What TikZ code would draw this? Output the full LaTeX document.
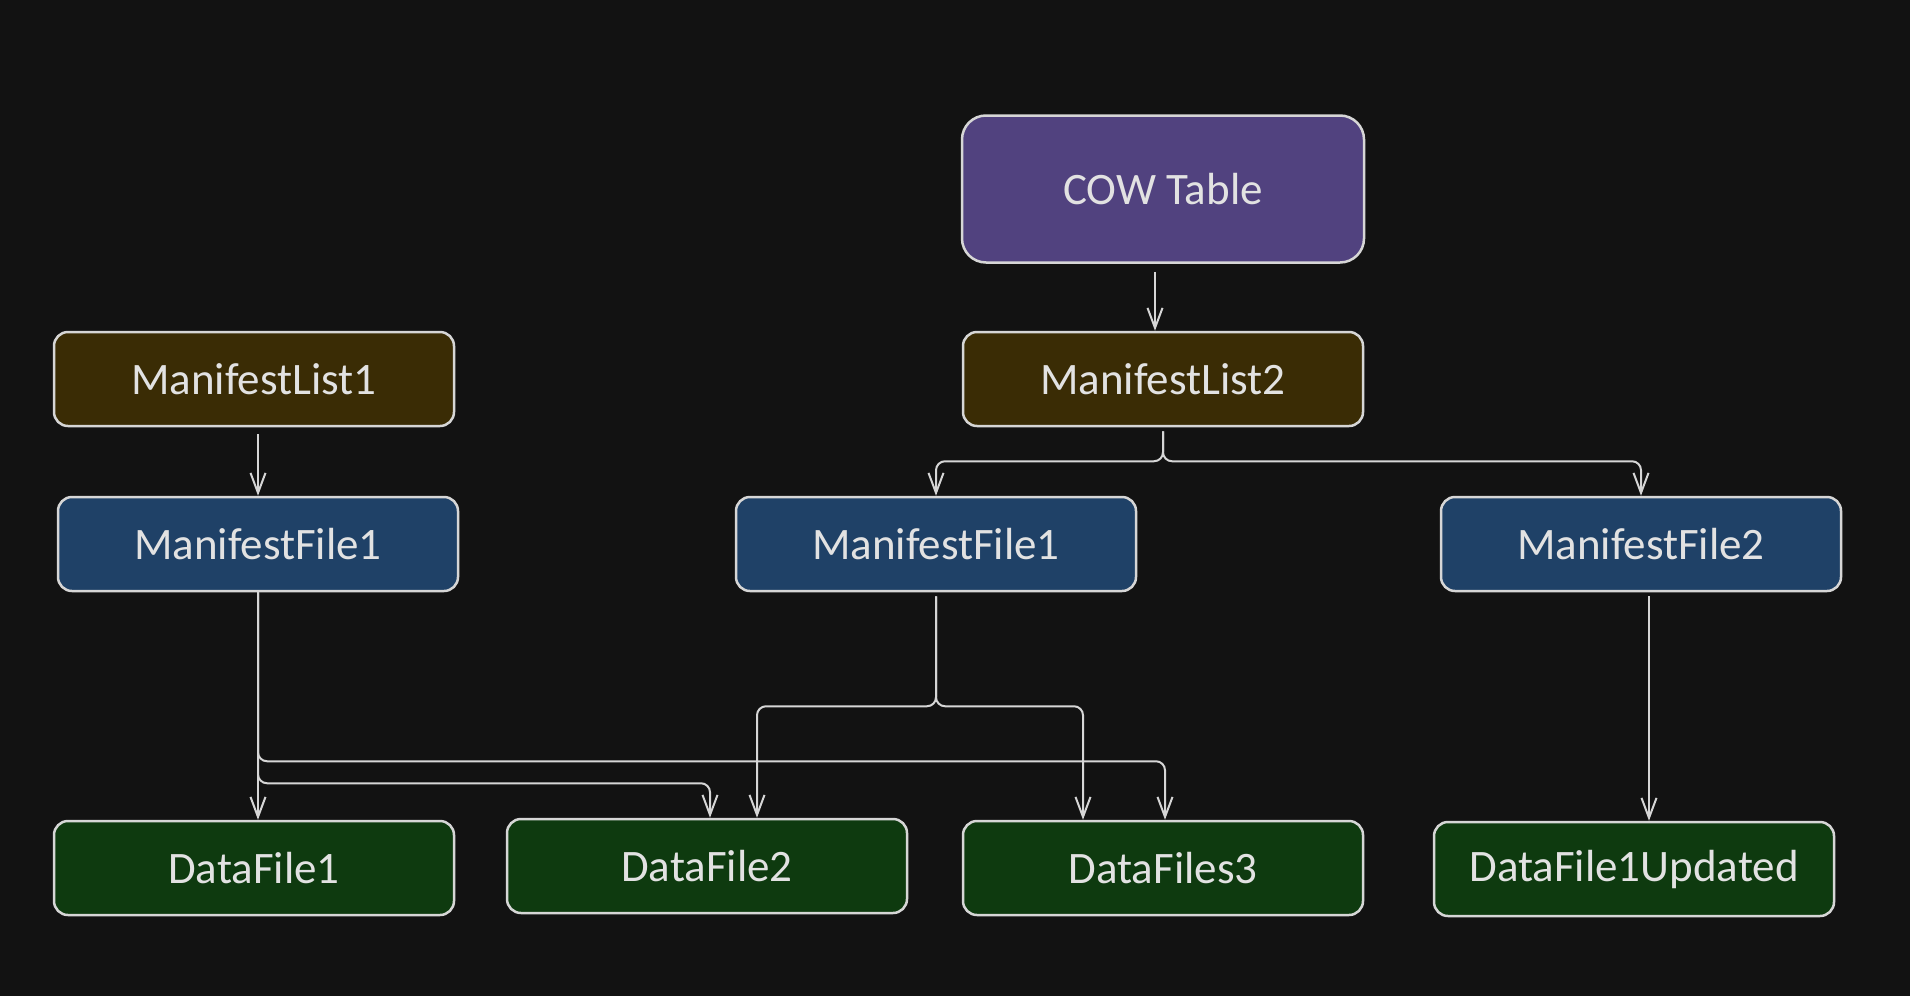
\documentclass[tikz,border=0pt]{standalone}
\usepackage{fontspec}
\setmainfont{Carlito}
\usetikzlibrary{arrows.meta,positioning}
\definecolor{bgdark}{HTML}{121212}
\definecolor{strokegray}{HTML}{D6D6D6}
\definecolor{textgray}{HTML}{E2E2E2}
\definecolor{cowpurple}{HTML}{51427F}
\definecolor{listbrown}{HTML}{3A2C05}
\definecolor{fileblue}{HTML}{1F4167}
\definecolor{datagreen}{HTML}{0E3A0F}
\begin{document}
\begin{tikzpicture}[x=1pt,y=1pt,on grid,node distance=165pt,
    >={Straight Barb[length=20pt,width=15pt]},
    box/.style={draw=strokegray,line width=2.5pt,rounded corners=14pt,minimum width=400pt,minimum height=94pt,text=textgray,font=\fontsize{45}{54}\selectfont},
    tablebox/.style={box,fill=cowpurple,minimum width=402pt,minimum height=147pt,rounded corners=24pt},
    listbox/.style={box,fill=listbrown},
    filebox/.style={box,fill=fileblue},
    databox/.style={box,fill=datagreen},
    link/.style={->,draw=strokegray,line width=2pt,rounded corners=9pt,shorten <=4pt}]
    \fill[bgdark] (0,0) rectangle (1910,-996);
    \node[tablebox] (cow) at (1163,-189) {COW Table};
    \node[listbox, below=190pt of cow] (list2) {ManifestList2};
    \node[listbox, left=909pt of list2] (list1) {ManifestList1};
    \node[filebox, below=165pt of list1, xshift=4pt] (file1a) {ManifestFile1};
    \node[filebox, below left=165pt and 227pt of list2] (file1b) {ManifestFile1};
    \node[filebox, below right=165pt and 478pt of list2] (file2) {ManifestFile2};
    \node[databox, below=489pt of list1] (data1) {DataFile1};
    \node[databox, right=453pt of data1, yshift=2pt] (data2) {DataFile2};
    \node[databox, below=489pt of list2] (data3) {DataFiles3};
    \node[databox, right=471pt of data3, yshift=-1pt] (data1u) {DataFile1Updated};
    % split points
    \coordinate (list2split) at ([yshift=-34pt]list2.south);
    \coordinate (file1bsplit) at ([yshift=-114pt]file1b.south);
    \coordinate (file1ajoinA) at ([yshift=-169pt]file1a.south);
    \coordinate (file1ajoinB) at ([yshift=-191pt]file1a.south);
    \draw[link, shorten <=8pt] ([xshift=-8pt]cow.south) -- ([xshift=-8pt]list2.north);
    \draw[link, shorten <=7pt] (file1a.north |- list1.south) -- (file1a.north);
    \draw[link] (list2.south) -- (list2split) -| (file1b.north);
    \draw[link] (list2.south) -- (list2split) -| (file2.north);
    \draw[link, shorten <=0pt] (file1a.south) -- (file1a.south |- data1.north);
    \draw[link, shorten <=0pt] (file1a.south) -- (file1ajoinA) -| ([xshift=2pt]data3.north);
    \draw[link, shorten <=0pt] (file1a.south) -- (file1ajoinB) -| ([xshift=3pt]data2.north);
    \draw[link] (file1b.south) -- (file1bsplit) -| ([xshift=50pt]data2.north);
    \draw[link] (file1b.south) -- (file1bsplit) -| ([xshift=-80pt]data3.north);
    \draw[link] ([xshift=8pt]file2.south) -- ([xshift=8pt]file2.south |- data1u.north);
\end{tikzpicture}
\end{document}
